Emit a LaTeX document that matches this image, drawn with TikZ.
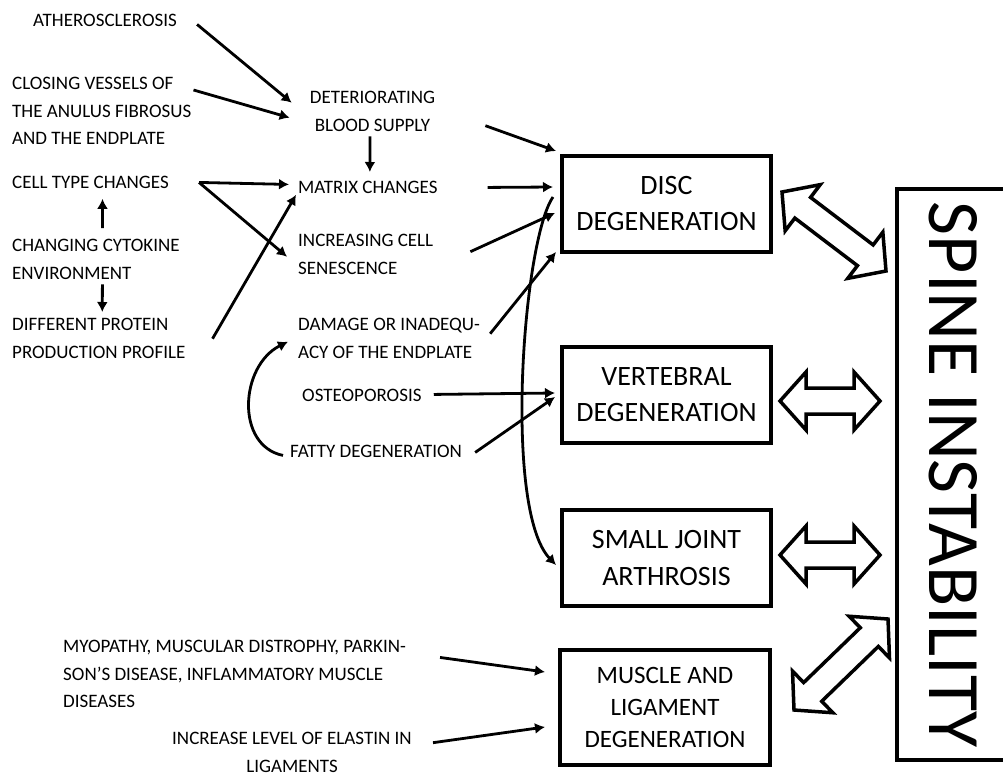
\documentclass[tikz,border=0pt]{standalone}
\usepackage{fontspec}
\setmainfont{Carlito}
\usetikzlibrary{arrows.meta,calc}

% white double-headed block arrow between two points
\newcommand{\dblarrow}[2]{%
  \draw[blockarrow] (#1)
    -- ($(#1)!26pt!(#2)!29pt!90:(#2)$)
    -- ($(#1)!26pt!(#2)!13pt!90:(#2)$)
    -- ($(#2)!26pt!(#1)!13pt!-90:(#1)$)
    -- ($(#2)!26pt!(#1)!29pt!-90:(#1)$)
    -- (#2)
    -- ($(#2)!26pt!(#1)!29pt!90:(#1)$)
    -- ($(#2)!26pt!(#1)!13pt!90:(#1)$)
    -- ($(#1)!26pt!(#2)!13pt!-90:(#2)$)
    -- ($(#1)!26pt!(#2)!29pt!-90:(#2)$)
    -- cycle;}

\begin{document}
\begin{tikzpicture}[x=1pt,y=-1pt,
  txt/.style={font=\fontsize{19}{27.5}\selectfont, align=left, inner sep=0pt, anchor=north west},
  box/.style={draw, line width=4pt, minimum width=209pt, minimum height=96pt, align=center, inner sep=0pt,
              font=\fontsize{28}{36}\selectfont},
  arr/.style={-{Latex[length=10pt,width=11pt]}, line width=2.8pt},
  blockarrow/.style={draw, fill=white, line width=3.5pt, line join=miter}]
  \useasboundingbox (0,0) rectangle (1003,774);

  % causes
  \node[txt] (ather)    at (33,14)  {ATHEROSCLEROSIS};
  \node[txt] (closing)  at (12,77)  {CLOSING VESSELS OF\\THE ANULUS FIBROSUS\\AND THE ENDPLATE};
  \node[txt] (celltype) at (12,176) {CELL TYPE CHANGES};
  \node[txt] (cytokine) at (12,239) {CHANGING CYTOKINE\\ENVIRONMENT};
  \node[txt] (protein)  at (12,318) {DIFFERENT PROTEIN\\PRODUCTION PROFILE};
  \node[txt, anchor=north, align=center] (deter) at (372.5,91) {DETERIORATING\\BLOOD SUPPLY};
  \node[txt] (matrix)   at (298,181) {MATRIX CHANGES};
  \node[txt] (senesc)   at (298,234) {INCREASING CELL\\SENESCENCE};
  \node[txt] (damage)   at (298,318) {DAMAGE OR INADEQU-\\ACY OF THE ENDPLATE};
  \node[txt] (osteo)    at (302,389) {OSTEOPOROSIS};
  \node[txt] (fatty)    at (290,445) {FATTY DEGENERATION};
  \node[txt] (myo)      at (63,640)  {MYOPATHY, MUSCULAR DISTROPHY, PARKIN-\\SON’S DISEASE, INFLAMMATORY MUSCLE\\DISEASES};
  \node[txt, anchor=north, align=center] (elastin) at (292,732) {INCREASE LEVEL OF ELASTIN IN\\LIGAMENTS};

  % degenerations
  \node[box] (disc)  at (666.5,204) {DISC\\DEGENERATION};
  \node[box] (vert)  at (666.5,395) {VERTEBRAL\\DEGENERATION};
  \node[box] (joint) at (666.5,558) {SMALL JOINT\\ARTHROSIS};
  \node[box, minimum width=210pt, minimum height=115pt, font=\fontsize{25}{32}\selectfont]
    (muscle) at (665,707.5) {MUSCLE AND\\LIGAMENT\\DEGENERATION};
  \node[draw, line width=4pt, rotate=-90, minimum width=571pt, minimum height=113pt,
        font=\fontsize{74}{74}\selectfont] (spine) at (953.5,474.5) {SPINE INSTABILITY};

  % thin arrows
  \draw[arr] ([shift={(20,4)}]ather.east) -- ([shift={(-18,-8.5)}]deter.west);
  \draw[arr] ([shift={(2,13)}]closing.north east) -- ([shift={(-20,6.5)}]deter.west);
  \draw[arr] ([shift={(-2.5,5)}]deter.south) -- ([shift={(2,-9)}]matrix.north);
  \draw[arr] ([shift={(30,0)}]celltype.east) -- ([shift={(-9,-3)}]matrix.west);
  \draw[arr] ([shift={(30,0)}]celltype.east) -- ([shift={(-11,2.5)}]senesc.west);
  \draw[arr] ([shift={(6.5,-11)}]cytokine.north) -- ([shift={(12,10)}]celltype.south);
  \draw[arr] ([shift={(6.5,5)}]cytokine.south) -- ([shift={(3.5,-6)}]protein.north);
  \draw[arr] ([shift={(27,0.5)}]protein.east) -- ([shift={(-2,1)}]matrix.south west);

  \draw[arr] ([shift={(50,14.5)}]deter.east) -- ([shift={(-4,-3)}]disc.north west);
  \draw[arr] ([shift={(50,0)}]matrix.east) -- ([shift={(-7,-17)}]disc.west);
  \draw[arr] ([shift={(37,-2.5)}]senesc.east) -- ([shift={(-5,9)}]disc.west);
  \draw[arr] ([shift={(10,-4.5)}]damage.east) -- ([shift={(-4,-2)}]disc.south west);
  \draw[arr] ([shift={(-7,-7)}]disc.west) .. controls +(-30,43) and +(-53,-55) .. ([shift={(-4,7)}]joint.west);

  \draw[arr] ([shift={(12,-1)}]osteo.east) -- ([shift={(-5,-2)}]vert.west);
  \draw[arr] ([shift={(13,1)}]fatty.east) -- ([shift={(-5,2)}]vert.west);
  \draw[arr] ([shift={(-7,4)}]fatty.west) .. controls +(-48,-10) and +(-48,24) .. ([shift={(-10,3.5)}]damage.west);

  \draw[arr] ([shift={(34,-16.5)}]myo.east) -- ([shift={(-13,-35.5)}]muscle.west);
  \draw[arr] ([shift={(21,-9.5)}]elastin.east) -- ([shift={(-13,19.5)}]muscle.west);

  % block arrows to spine instability
  \coordinate (a1s) at (782,192);  \coordinate (a1e) at (886,271);
  \coordinate (a2s) at (780,401);  \coordinate (a2e) at (880,401);
  \coordinate (a3s) at (780,555);  \coordinate (a3e) at (880,555);
  \coordinate (a4s) at (794,710);  \coordinate (a4e) at (888,619);
  \dblarrow{a1s}{a1e}
  \dblarrow{a2s}{a2e}
  \dblarrow{a3s}{a3e}
  \dblarrow{a4s}{a4e}
\end{tikzpicture}
\end{document}
